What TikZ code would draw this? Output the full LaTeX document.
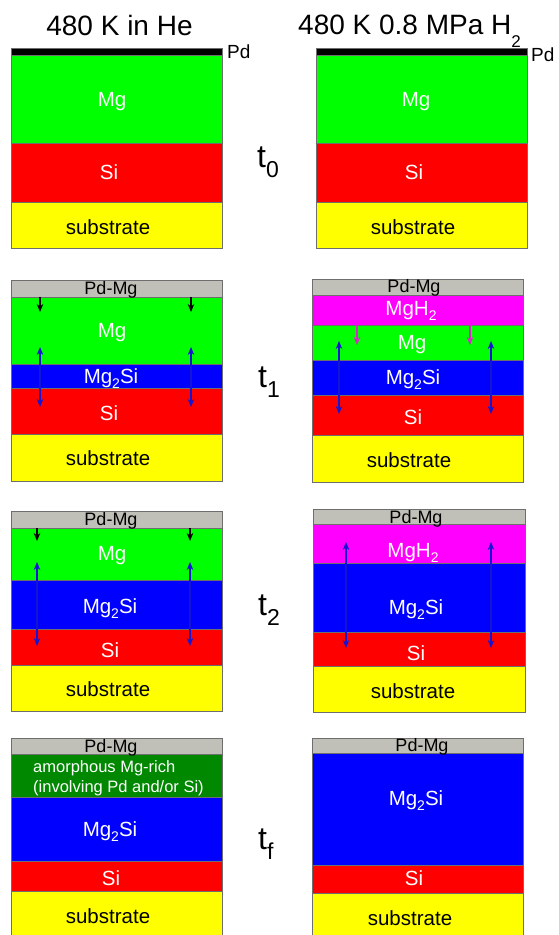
\documentclass[tikz,border=0pt]{standalone}
\usepackage{fontspec}
\setmainfont{Liberation Sans}
\usetikzlibrary{arrows.meta}
\definecolor{cMg}{RGB}{0,255,0}
\definecolor{cSi}{RGB}{255,0,0}
\definecolor{cSub}{RGB}{255,255,0}
\definecolor{cMgSi}{RGB}{0,0,255}
\definecolor{cMgH}{RGB}{255,0,255}
\definecolor{cPdMg}{RGB}{192,192,184}
\definecolor{cAm}{RGB}{0,136,0}
\definecolor{edgegray}{RGB}{110,110,110}
\definecolor{arrblue}{RGB}{20,20,210}
\definecolor{arrmag}{RGB}{215,40,200}
\newcommand\mklayer[6]{% name, x1, y1, x2, y2, colour
  \pgfmathsetmacro\layw{#4-(#2)}\pgfmathsetmacro\layh{#5-(#3)}%
  \node[layerbox, fill=#6, minimum width=\layw pt, minimum height=\layh pt] (#1) at (#2,#3) {};}
\newcommand\lsub[1]{\raisebox{-5pt}{\fontsize{14}{14}\selectfont #1}}
\newcommand\tlab[1]{t\raisebox{-10pt}{\fontsize{23}{23}\selectfont #1}}
\begin{document}
\begin{tikzpicture}[x=1pt,y=-1pt,
  layerbox/.style={draw=edgegray, line width=0.6pt, inner sep=0pt, outer sep=0pt, anchor=north west},
  wlab/.style={text=white, font=\fontsize{20.5}{20.5}\selectfont, inner sep=0pt, text height=14.6pt, text depth=0pt},
  blab/.style={text=black, font=\fontsize{20.5}{20.5}\selectfont, inner sep=0pt, text height=14.6pt, text depth=0pt},
  pdlab/.style={text=black, font=\fontsize{18}{18}\selectfont, inner sep=0pt, text height=12.9pt, text depth=0pt},
  amlab/.style={text=white, font=\fontsize{16.5}{16.5}\selectfont, inner sep=0pt, text height=11.8pt, text depth=0pt, anchor=west},
  titlelab/.style={text=black, font=\fontsize{28}{28}\selectfont, inner sep=0pt, text height=20pt, text depth=0pt},
  tlabel/.style={text=black, font=\fontsize{32}{32}\selectfont, inner sep=0pt, anchor=base west},
  darr/.style={-{Stealth[length=8pt,width=6.5pt]}, line width=1.2pt},
  barr/.style={{Stealth[length=8pt,width=6.5pt]}-{Stealth[length=8pt,width=6.5pt]}, line width=1.3pt, draw=arrblue}
]
\useasboundingbox[fill=white] (0,0) rectangle (559,935);

% ---------- titles ----------
\node[titlelab] (title1) at (119.5,25.5) {480 K in He};
\node[titlelab, anchor=west] (title2) at (298,24) {480 K 0.8 MPa H\raisebox{-13pt}{\fontsize{17}{17}\selectfont 2}};

% ---------- t0 ----------
\mklayer{a0pd}{11}{48}{222}{55}{black}
\mklayer{a0mg}{11}{55}{222}{143}{cMg}
\mklayer{a0si}{11}{143}{222}{202}{cSi}
\mklayer{a0sub}{11}{202}{222}{248}{cSub}
\node[wlab] (la0mg) at (112,99) {Mg};
\node[wlab] (la0si) at (109,172) {Si};
\node[blab] (la0sub) at (108,227) {substrate};
\node[text=black, font=\fontsize{19}{19}\selectfont, inner sep=0pt, text height=13.6pt, text depth=0pt, anchor=west] (la0pd) at (227,51.5) {Pd};

\mklayer{b0pd}{316}{48}{527}{55}{black}
\mklayer{b0mg}{316}{55}{527}{143}{cMg}
\mklayer{b0si}{316}{143}{527}{202}{cSi}
\mklayer{b0sub}{316}{202}{527}{248}{cSub}
\node[wlab] (lb0mg) at (416,99) {Mg};
\node[wlab] (lb0si) at (414,172) {Si};
\node[blab] (lb0sub) at (413,227) {substrate};
\node[text=black, font=\fontsize{19}{19}\selectfont, inner sep=0pt, text height=13.6pt, text depth=0pt, anchor=west] (lb0pd) at (531,55) {Pd};

\node[tlabel] (t0) at (257,167) {\tlab{0}};

% ---------- t1 ----------
\mklayer{a1pd}{11}{280}{222}{297}{cPdMg}
\mklayer{a1mg}{11}{297}{222}{364}{cMg}
\mklayer{a1ms}{11}{364}{222}{388}{cMgSi}
\mklayer{a1si}{11}{388}{222}{434}{cSi}
\mklayer{a1sub}{11}{434}{222}{481}{cSub}
\node[pdlab] (la1pd) at (111,288) {Pd-Mg};
\node[wlab] (la1mg) at (112,330) {Mg};
\node[wlab] (la1ms) at (111,376) {Mg\lsub{2}Si};
\node[wlab] (la1si) at (109,413) {Si};
\node[blab] (la1sub) at (108,458) {substrate};
\coordinate (a1k1s) at (40,297); \coordinate (a1k1e) at (40,312);
\coordinate (a1k2s) at (191,297); \coordinate (a1k2e) at (191,312);
\draw[darr] (a1k1s) -- (a1k1e);
\draw[darr] (a1k2s) -- (a1k2e);
\coordinate (a1b1s) at (40,347); \coordinate (a1b1e) at (40,407);
\coordinate (a1b2s) at (191,347); \coordinate (a1b2e) at (191,407);
\draw[barr] (a1b1s) -- (a1b1e);
\draw[barr] (a1b2s) -- (a1b2e);

\mklayer{b1pd}{312}{279}{523.5}{295}{cPdMg}
\mklayer{b1mh}{312}{295}{523.5}{325}{cMgH}
\mklayer{b1mg}{312}{325}{523.5}{360}{cMg}
\mklayer{b1ms}{312}{360}{523.5}{395}{cMgSi}
\mklayer{b1si}{312}{395}{523.5}{435}{cSi}
\mklayer{b1sub}{312}{435}{523.5}{482}{cSub}
\node[pdlab] (lb1pd) at (414,286) {Pd-Mg};
\node[wlab] (lb1mh) at (411,308) {MgH\lsub{2}};
\node[wlab] (lb1mg) at (412,342) {Mg};
\node[wlab] (lb1ms) at (413,377) {Mg\lsub{2}Si};
\node[wlab] (lb1si) at (413,417) {Si};
\node[blab] (lb1sub) at (409,460) {substrate};
\coordinate (b1m1s) at (357,325); \coordinate (b1m1e) at (357,345);
\coordinate (b1m2s) at (470,325); \coordinate (b1m2e) at (470,345);
\draw[darr, draw=arrmag] (b1m1s) -- (b1m1e);
\draw[darr, draw=arrmag] (b1m2s) -- (b1m2e);
\coordinate (b1b1s) at (339,341); \coordinate (b1b1e) at (339,414);
\coordinate (b1b2s) at (491,341); \coordinate (b1b2e) at (491,414);
\draw[barr] (b1b1s) -- (b1b1e);
\draw[barr] (b1b2s) -- (b1b2e);

\node[tlabel] (t1) at (258,387) {\tlab{1}};

% ---------- t2 ----------
\mklayer{a2pd}{11}{511}{222}{528}{cPdMg}
\mklayer{a2mg}{11}{528}{222}{580}{cMg}
\mklayer{a2ms}{11}{580}{222}{629}{cMgSi}
\mklayer{a2si}{11}{629}{222}{665}{cSi}
\mklayer{a2sub}{11}{665}{222}{711}{cSub}
\node[pdlab] (la2pd) at (111,519) {Pd-Mg};
\node[wlab] (la2mg) at (112,553) {Mg};
\node[wlab] (la2ms) at (110,606) {Mg\lsub{2}Si};
\node[wlab] (la2si) at (110,650) {Si};
\node[blab] (la2sub) at (108,689) {substrate};
\coordinate (a2k1s) at (37,528); \coordinate (a2k1e) at (37,541);
\coordinate (a2k2s) at (190,528); \coordinate (a2k2e) at (190,541);
\draw[darr] (a2k1s) -- (a2k1e);
\draw[darr] (a2k2s) -- (a2k2e);
\coordinate (a2b1s) at (37,562); \coordinate (a2b1e) at (37,646);
\coordinate (a2b2s) at (190,562); \coordinate (a2b2e) at (190,646);
\draw[barr] (a2b1s) -- (a2b1e);
\draw[barr] (a2b2s) -- (a2b2e);

\mklayer{b2pd}{313}{509}{525}{524}{cPdMg}
\mklayer{b2mh}{313}{524}{525}{563}{cMgH}
\mklayer{b2ms}{313}{563}{525}{632}{cMgSi}
\mklayer{b2si}{313}{632}{525}{666}{cSi}
\mklayer{b2sub}{313}{666}{525}{712}{cSub}
\node[pdlab] (lb2pd) at (416,517) {Pd-Mg};
\node[wlab] (lb2mh) at (413,550) {MgH\lsub{2}};
\node[wlab] (lb2ms) at (416,607) {Mg\lsub{2}Si};
\node[wlab] (lb2si) at (416,653) {Si};
\node[blab] (lb2sub) at (413,691) {substrate};
\coordinate (b2b1s) at (346,542); \coordinate (b2b1e) at (346,648);
\coordinate (b2b2s) at (491,542); \coordinate (b2b2e) at (491,648);
\draw[barr] (b2b1s) -- (b2b1e);
\draw[barr] (b2b2s) -- (b2b2e);

\node[tlabel] (t2) at (258,615) {\tlab{2}};

% ---------- tf ----------
\mklayer{afpd}{11}{738}{222}{754}{cPdMg}
\mklayer{afam}{11}{754}{222}{797}{cAm}
\mklayer{afms}{11}{797}{222}{861}{cMgSi}
\mklayer{afsi}{11}{861}{222}{891}{cSi}
\mklayer{afsub}{11}{891}{222}{936}{cSub}
\node[pdlab] (lafpd) at (111,746) {Pd-Mg};
\node[amlab] (lafam1) at (33,767) {amorphous Mg-rich};
\node[amlab] (lafam2) at (33,787) {(involving Pd and/or Si)};
\node[wlab] (lafms) at (110,829) {Mg\lsub{2}Si};
\node[wlab] (lafsi) at (111,878) {Si};
\node[blab] (lafsub) at (108,916) {substrate};

\mklayer{bfpd}{312}{738}{523}{753}{cPdMg}
\mklayer{bfms}{312}{753}{523}{865}{cMgSi}
\mklayer{bfsi}{312}{865}{523}{893}{cSi}
\mklayer{bfsub}{312}{893}{523}{936}{cSub}
\node[pdlab] (lbfpd) at (422,745) {Pd-Mg};
\node[wlab] (lbfms) at (416,798) {Mg\lsub{2}Si};
\node[wlab] (lbfsi) at (414,878) {Si};
\node[blab] (lbfsub) at (410,918) {substrate};

\node[tlabel] (tf) at (258,849) {\tlab{f}};
\end{tikzpicture}
\end{document}
